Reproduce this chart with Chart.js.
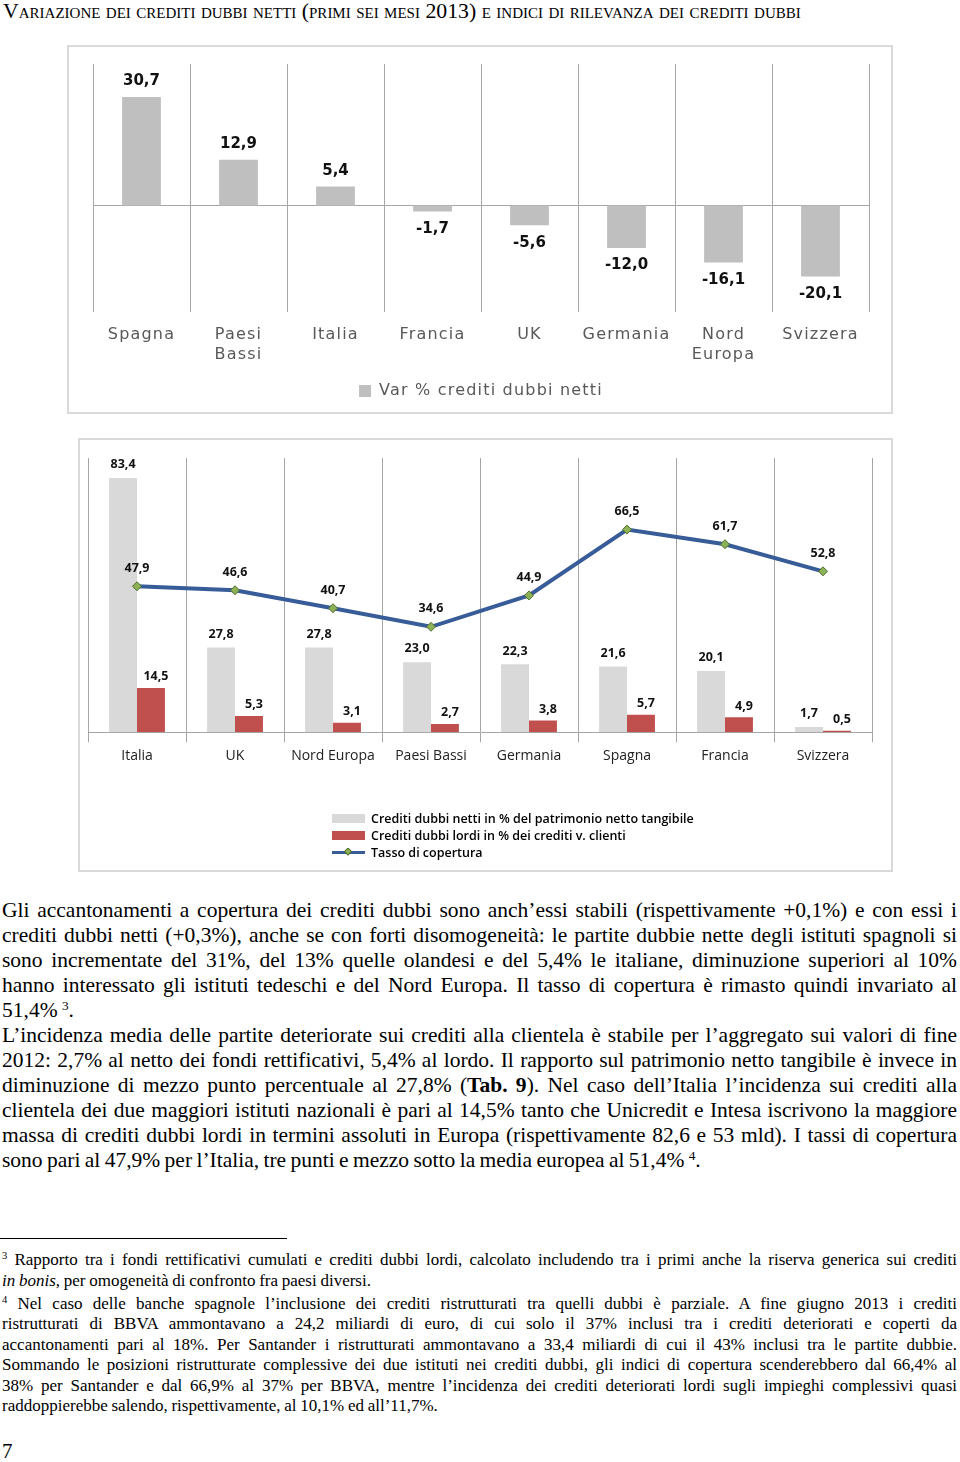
<!DOCTYPE html>
<html lang="it">
<head>
<meta charset="utf-8">
<script src="https://cdn.jsdelivr.net/npm/chart.js@4.4.1/dist/chart.umd.min.js"></script>
<style>
  html, body { margin: 0; padding: 0; background: #fff; }
  body { width: 960px; height: 1462px; position: relative; overflow: hidden;
         font-family: "Liberation Serif", "Times New Roman", serif; color: #000; }
  .abs { position: absolute; }
  #titolo { left: 3px; top: -1px; font-size: 21.8px; font-variant: small-caps; white-space: nowrap; }
  .box { position: absolute; border: 2px solid #D9D9D9; box-sizing: border-box; background: #fff; }
  .box .inner { position: relative; width: 100%; height: 100%; }
  #box1 { left: 67px; top: 45px; width: 826px; height: 369px; }
  #box2 { left: 78px; top: 438px; width: 815px; height: 434px; }
  #legenda2 { left: 332px; top: 810px; font-family: "Open Sans", sans-serif; font-weight: 600;
              font-size: 12.5px; line-height: 17px; }
  #legenda2 .riga { display: flex; align-items: center; height: 17px; white-space: nowrap; }
  #legenda2 .sw { width: 33px; height: 9px; margin-right: 6px; position: relative; }
  #testo { left: 2px; top: 898px; width: 955px; font-size: 21.5px; line-height: 25px; word-spacing: -1px; }
  .j { text-align: justify; text-align-last: justify; }
  sup { font-size: 62%; line-height: 0; vertical-align: 0.55em; }
  #sep { left: 0; top: 1238px; width: 287px; height: 0; border-top: 1px solid #000; }
  #note { left: 2px; top: 1250px; width: 955px; font-size: 17px; line-height: 20.5px; word-spacing: -0.5px; }
  #note .nota + .nota { margin-top: 2.5px; }
  #pagina { left: 2px; top: 1439px; font-size: 21px; }
</style>
</head>
<body>

<div id="titolo" class="abs">Variazione dei crediti dubbi netti (primi sei mesi 2013) e indici di rilevanza dei crediti dubbi</div>

<div id="box1" class="box"><div class="inner"><canvas id="grafico1"></canvas></div></div>
<div id="box2" class="box"><div class="inner"><canvas id="grafico2"></canvas></div></div>
<div id="legenda2" class="abs"></div>

<div id="testo" class="abs">
  <div class="j">Gli accantonamenti a copertura dei crediti dubbi sono anch’essi stabili (rispettivamente +0,1%) e con essi i</div>
  <div class="j">crediti dubbi netti (+0,3%), anche se con forti disomogeneità: le partite dubbie nette degli istituti spagnoli si</div>
  <div class="j">sono incrementate del 31%, del 13% quelle olandesi e del 5,4% le italiane, diminuzione superiori al 10%</div>
  <div class="j">hanno interessato gli istituti tedeschi e del Nord Europa. Il tasso di copertura è rimasto quindi invariato al</div>
  <div>51,4% <sup>3</sup>.</div>
  <div class="j">L’incidenza media delle partite deteriorate sui crediti alla clientela è stabile per l’aggregato sui valori di fine</div>
  <div class="j">2012: 2,7% al netto dei fondi rettificativi, 5,4% al lordo. Il rapporto sul patrimonio netto tangibile è invece in</div>
  <div class="j">diminuzione di mezzo punto percentuale al 27,8% (<b>Tab. 9</b>). Nel caso dell’Italia l’incidenza sui crediti alla</div>
  <div class="j">clientela dei due maggiori istituti nazionali è pari al 14,5% tanto che Unicredit e Intesa iscrivono la maggiore</div>
  <div class="j">massa di crediti dubbi lordi in termini assoluti in Europa (rispettivamente 82,6 e 53 mld). I tassi di copertura</div>
  <div>sono pari al 47,9% per l’Italia, tre punti e mezzo sotto la media europea al 51,4% <sup>4</sup>.</div>
</div>

<div id="sep" class="abs"></div>
<div id="note" class="abs">
  <div class="nota">
    <div class="j"><sup>3</sup> Rapporto tra i fondi rettificativi cumulati e crediti dubbi lordi, calcolato includendo tra i primi anche la riserva generica sui crediti</div>
    <div><i>in bonis</i>, per omogeneità di confronto fra paesi diversi.</div>
  </div>
  <div class="nota">
    <div class="j"><sup>4</sup> Nel caso delle banche spagnole l’inclusione dei crediti ristrutturati tra quelli dubbi è parziale. A fine giugno 2013 i crediti</div>
    <div class="j">ristrutturati di BBVA ammontavano a 24,2 miliardi di euro, di cui solo il 37% inclusi tra i crediti deteriorati e coperti da</div>
    <div class="j">accantonamenti pari al 18%. Per Santander i ristrutturati ammontavano a 33,4 miliardi di cui il 43% inclusi tra le partite dubbie.</div>
    <div class="j">Sommando le posizioni ristrutturate complessive dei due istituti nei crediti dubbi, gli indici di copertura scenderebbero dal 66,4% al</div>
    <div class="j">38% per Santander e dal 66,9% al 37% per BBVA, mentre l’incidenza dei crediti deteriorati lordi sugli impieghi complessivi quasi</div>
    <div>raddoppierebbe salendo, rispettivamente, al 10,1% ed all’11,7%.</div>
  </div>
</div>

<div id="pagina" class="abs">7</div>

<script>
// grafico 1: variazione % dei crediti dubbi netti
const paesiVar = ["Spagna", ["Paesi", "Bassi"], "Italia", "Francia", "UK", "Germania", ["Nord", "Europa"], "Svizzera"];
const varCreditiNetti = [30.7, 12.9, 5.4, -1.7, -5.6, -12.0, -16.1, -20.1];

// grafico 2: indici di rilevanza
const paesiIndici = ["Italia", "UK", "Nord Europa", "Paesi Bassi", "Germania", "Spagna", "Francia", "Svizzera"];
const nettiSuPatrimonio = [83.4, 27.8, 27.8, 23.0, 22.3, 21.6, 20.1, 1.7];
const lordiSuCrediti = [14.5, 5.3, 3.1, 2.7, 3.8, 5.7, 4.9, 0.5];
const tassoCopertura = [47.9, 46.6, 40.7, 34.6, 44.9, 66.5, 61.7, 52.8];

const fmt = (v) => v.toFixed(1).replace(".", ",");

const GRIGIO_LINEE = "#A6A6A6";

// spaziatura lettere per imitare il font originale (allargato)
const spaziatura = {
  id: "spaziatura",
  beforeUpdate(c) { c.ctx.letterSpacing = "1.2px"; },
  beforeDraw(c) { c.ctx.letterSpacing = "1.2px"; }
};

const lineaZero = {
  id: "lineaZero",
  beforeDatasetsDraw(chart) {
    const { ctx, chartArea } = chart;
    const y = Math.round(chart.scales.y.getPixelForValue(0)) + 0.5;
    ctx.save();
    ctx.strokeStyle = GRIGIO_LINEE;
    ctx.lineWidth = 1;
    ctx.beginPath();
    ctx.moveTo(chartArea.left, y);
    ctx.lineTo(chartArea.right, y);
    ctx.stroke();
    ctx.restore();
  }
};

const etichette1 = {
  id: "etichette1",
  afterDatasetsDraw(chart) {
    const { ctx } = chart;
    ctx.save();
    ctx.letterSpacing = "0px";
    ctx.font = "bold 15px 'DejaVu Sans'";
    ctx.fillStyle = "#111";
    ctx.textAlign = "center";
    chart.getDatasetMeta(0).data.forEach((bar, i) => {
      const v = varCreditiNetti[i];
      if (v >= 0) {
        ctx.textBaseline = "bottom";
        ctx.fillText(fmt(v), bar.x, bar.y - 8);
      } else {
        ctx.textBaseline = "top";
        ctx.fillText(fmt(v), bar.x, bar.y + 10);
      }
    });
    ctx.restore();
  }
};

new Chart(document.getElementById("grafico1"), {
  type: "bar",
  data: {
    labels: paesiVar,
    datasets: [{
      label: "Var % crediti dubbi netti",
      data: varCreditiNetti,
      backgroundColor: "#BFBFBF",
      barPercentage: 0.4,
      categoryPercentage: 1
    }]
  },
  options: {
    responsive: true,
    maintainAspectRatio: false,
    animation: false,
    layout: { padding: { left: 24, right: 22, top: 17, bottom: 3 } },
    plugins: {
      legend: {
        position: "bottom",
        labels: {
          boxWidth: 12, boxHeight: 12, padding: 5,
          color: "#595959",
          font: { family: "'DejaVu Sans'", size: 16 }
        }
      },
      tooltip: { enabled: false }
    },
    scales: {
      x: {
        grid: { offset: true, color: GRIGIO_LINEE, drawTicks: false },
        border: { display: false },
        ticks: { padding: 14, color: "#595959", font: { family: "'DejaVu Sans'", size: 16 } }
      },
      y: { display: false, min: -30, max: 40 }
    }
  },
  plugins: [spaziatura, lineaZero, etichette1]
});

const etichette2 = {
  id: "etichette2",
  afterDatasetsDraw(chart) {
    const { ctx } = chart;
    ctx.save();
    ctx.font = "bold 12.5px 'Open Sans'";
    ctx.fillStyle = "#111";
    ctx.textAlign = "center";
    ctx.textBaseline = "bottom";
    chart.getDatasetMeta(0).data.forEach((b, i) => ctx.fillText(fmt(nettiSuPatrimonio[i]), b.x, b.y - 7));
    chart.getDatasetMeta(1).data.forEach((b, i) => ctx.fillText(fmt(lordiSuCrediti[i]), b.x + 5, b.y - 5));
    chart.getDatasetMeta(2).data.forEach((p, i) => ctx.fillText(fmt(tassoCopertura[i]), p.x, p.y - 12));
    ctx.restore();
  }
};

const serie2 = [
  { label: "Crediti dubbi netti in % del patrimonio netto tangibile", type: "bar", data: nettiSuPatrimonio, color: "#D9D9D9" },
  { label: "Crediti dubbi lordi in % dei crediti v. clienti", type: "bar", data: lordiSuCrediti, color: "#C0504D" },
  { label: "Tasso di copertura", type: "line", data: tassoCopertura, color: "#375C97" }
];

new Chart(document.getElementById("grafico2"), {
  data: {
    labels: paesiIndici,
    datasets: serie2.map((s) => s.type === "bar" ? {
      type: "bar", label: s.label, data: s.data, backgroundColor: s.color,
      barPercentage: 1, categoryPercentage: 0.57, order: 1
    } : {
      type: "line", label: s.label, data: s.data, borderColor: s.color, borderWidth: 4,
      pointStyle: "rectRot", pointRadius: 4.5, pointBackgroundColor: "#8DB255",
      pointBorderColor: "#4F6B2E", pointBorderWidth: 1, tension: 0, order: 0
    })
  },
  options: {
    responsive: true,
    maintainAspectRatio: false,
    animation: false,
    layout: { padding: { left: 8, right: 19, top: 18, bottom: 101 } },
    plugins: { legend: { display: false }, tooltip: { enabled: false } },
    scales: {
      x: {
        grid: { offset: true, color: GRIGIO_LINEE, drawTicks: true, tickLength: 10 },
        border: { display: true, color: GRIGIO_LINEE },
        ticks: { padding: 5, color: "#222", font: { family: "'Open Sans'", size: 14 } }
      },
      y: { display: false, min: 0, max: 90 }
    }
  },
  plugins: [etichette2]
});

// legenda verticale in HTML, costruita dalle serie
const leg = document.getElementById("legenda2");
serie2.forEach((s) => {
  const riga = document.createElement("div");
  riga.className = "riga";
  const sw = document.createElement("span");
  sw.className = "sw";
  if (s.type === "bar") {
    sw.style.background = s.color;
  } else {
    sw.innerHTML = '<svg width="33" height="9" style="position:absolute;left:0;top:0">' +
      '<line x1="0" y1="4.5" x2="33" y2="4.5" stroke="' + s.color + '" stroke-width="3"/>' +
      '<rect x="13.5" y="1" width="5" height="5" transform="rotate(45 16 3.5)" fill="#8DB255" stroke="#4F6B2E" stroke-width="1"/></svg>';
  }
  const t = document.createElement("span");
  t.textContent = s.label;
  riga.appendChild(sw);
  riga.appendChild(t);
  leg.appendChild(riga);
});
</script>
</body>
</html>
